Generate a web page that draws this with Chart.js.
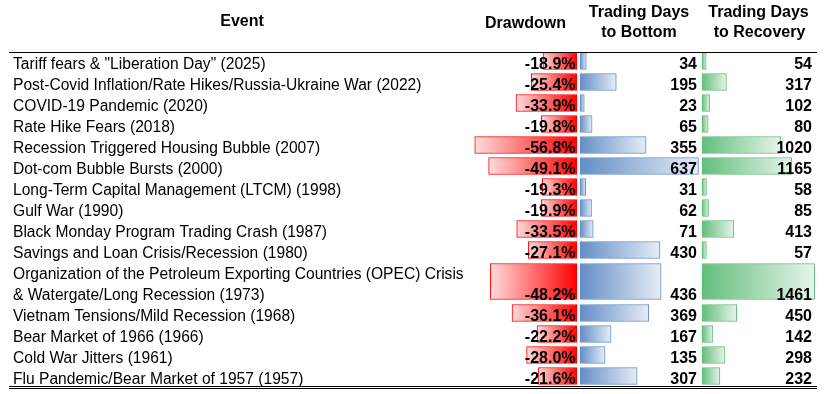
<!DOCTYPE html>
<html>
<head>
<meta charset="utf-8">
<script src="https://cdn.jsdelivr.net/npm/chart.js@4.4.1/dist/chart.umd.min.js"></script>
<style>
  html, body { margin: 0; padding: 0; background: #ffffff; }
  #wrap { width: 825px; height: 394px; }
</style>
</head>
<body>
<div id="wrap"><canvas id="c" width="825" height="394"></canvas></div>
<script>
// ---- data ----
const headers = ["Event", "Drawdown", "Trading Days\nto Bottom", "Trading Days\nto Recovery"];
const events = [
  'Tariff fears & "Liberation Day" (2025)',
  'Post-Covid Inflation/Rate Hikes/Russia-Ukraine War (2022)',
  'COVID-19 Pandemic (2020)',
  'Rate Hike Fears (2018)',
  'Recession Triggered Housing Bubble (2007)',
  'Dot-com Bubble Bursts (2000)',
  'Long-Term Capital Management (LTCM) (1998)',
  'Gulf War (1990)',
  'Black Monday Program Trading Crash (1987)',
  'Savings and Loan Crisis/Recession (1980)',
  'Organization of the Petroleum Exporting Countries (OPEC) Crisis\n& Watergate/Long Recession (1973)',
  'Vietnam Tensions/Mild Recession (1968)',
  'Bear Market of 1966 (1966)',
  'Cold War Jitters (1961)',
  'Flu Pandemic/Bear Market of 1957 (1957)'
];
const drawdown = [-18.9, -25.4, -33.9, -19.8, -56.8, -49.1, -19.3, -19.9, -33.5, -27.1, -48.2, -36.1, -22.2, -28.0, -21.6];
const daysToBottom = [34, 195, 23, 65, 355, 637, 31, 62, 71, 430, 436, 369, 167, 135, 307];
const daysToRecovery = [54, 317, 102, 80, 1020, 1165, 58, 85, 413, 57, 1461, 450, 142, 298, 232];

// ---- layout helpers (rows: a two-line label takes two row slots) ----
const lineCounts = events.map(e => e.split('\n').length);
const slotStart = [];
let acc = 0;
lineCounts.forEach(n => { slotStart.push(acc); acc += n; });
const totalSlots = acc;
const rowCenter = slotStart.map((s, i) => s + lineCounts[i] / 2);

function split(values, multi) {
  const out = [];
  values.forEach((v, i) => {
    if ((lineCounts[i] > 1) === multi) out.push({ x: v, y: rowCenter[i] });
  });
  return out;
}

function gradFill(c0, c1) {
  return function (ctx) {
    const chart = ctx.chart;
    const ds = chart.data.datasets[ctx.datasetIndex];
    const sc = chart.scales[ds.xAxisID];
    const v = ctx.raw && ctx.raw.x;
    if (v == null || !sc) return c0;
    const p0 = sc.getPixelForValue(0), p1 = sc.getPixelForValue(v);
    if (!isFinite(p0) || !isFinite(p1) || p0 === p1) return c0;
    const g = chart.ctx.createLinearGradient(p0, 0, p1, 0);
    g.addColorStop(0, c0);
    g.addColorStop(1, c1);
    return g;
  };
}

const RED = '#FF0000', RED_END = '#FFDCDC';
const BLUE = '#638EC6', BLUE_END = '#E6ECF6';
const GREEN = '#63BE7B', GREEN_END = '#E6F4EA';

function mk(label, data, axis, c0, c1, thick) {
  return {
    label, data, xAxisID: axis, yAxisID: 'y', stack: 'row',
    backgroundColor: gradFill(c0, c1), borderColor: c0, borderWidth: 1,
    borderSkipped: false, barThickness: thick
  };
}

const NORMAL = 17, DOUBLE = 36;
const datasets = [
  mk('Drawdown', split(drawdown, false), 'xD', RED, RED_END, NORMAL),
  mk('Drawdown', split(drawdown, true), 'xD', RED, RED_END, DOUBLE),
  mk('Bottom', split(daysToBottom, false), 'xB', BLUE, BLUE_END, NORMAL),
  mk('Bottom', split(daysToBottom, true), 'xB', BLUE, BLUE_END, DOUBLE),
  mk('Recovery', split(daysToRecovery, false), 'xR', GREEN, GREEN_END, NORMAL),
  mk('Recovery', split(daysToRecovery, true), 'xR', GREEN, GREEN_END, DOUBLE)
];

// column geometry: zero pixel and pixels per unit
const W = 825;
const colD = { zero: 577, ppu: 1.80 };
const colB = { zero: 580, ppu: 0.186 };
const colR = { zero: 702, ppu: 0.0771 };
function axis(col) {
  return { type: 'linear', display: false, stacked: false, bounds: 'data', offset: false,
           min: -col.zero / col.ppu, max: (W - col.zero) / col.ppu };
}

const FONT = '"Liberation Sans", Arial, sans-serif';

const textPlugin = {
  id: 'tableText',
  afterDraw(chart) {
    const ctx = chart.ctx;
    const y = chart.scales.y;
    const xD = chart.scales.xD, xB = chart.scales.xB, xR = chart.scales.xR;
    ctx.save();
    ctx.fillStyle = '#000';
    ctx.textBaseline = 'alphabetic';
    // headers
    ctx.font = 'bold 16px ' + FONT;
    ctx.textAlign = 'center';
    ctx.fillText(headers[0], 242, 26);
    ctx.fillText(headers[1], 525.5, 27.5);
    const h2 = headers[2].split('\n'), h3 = headers[3].split('\n');
    ctx.fillText(h2[0], 639, 16.5); ctx.fillText(h2[1], 639, 36.5);
    ctx.fillText(h3[0], 758.5, 16.5); ctx.fillText(h3[1], 759.5, 36.5);

    // rows
    const slotBottom = s => y.getPixelForValue(s + 1) - 2.3;
    events.forEach((ev, i) => {
      const lines = ev.split('\n');
      ctx.font = '15.6px ' + FONT;
      ctx.textAlign = 'left';
      lines.forEach((ln, k) => ctx.fillText(ln, 13, slotBottom(slotStart[i] + k)));
      const base = slotBottom(slotStart[i] + lines.length - 1);
      ctx.font = 'bold 16px ' + FONT;
      ctx.textAlign = 'right';
      ctx.fillText(drawdown[i].toFixed(1) + '%', xD.getPixelForValue(0) - 1.5, base);
      ctx.fillText(String(daysToBottom[i]), xB.getPixelForValue(0) + 117, base);
      ctx.fillText(String(daysToRecovery[i]), xR.getPixelForValue(0) + 110, base);
    });

    // rules
    ctx.strokeStyle = '#000';
    ctx.lineWidth = 1;
    const top = Math.round(y.getPixelForValue(0)) + 1.5;
    const bot = Math.round(y.getPixelForValue(totalSlots));
    ctx.beginPath();
    ctx.moveTo(9, top); ctx.lineTo(817, top);
    ctx.moveTo(9, bot - 0.5); ctx.lineTo(817, bot - 0.5);
    ctx.moveTo(9, bot + 1.5); ctx.lineTo(817, bot + 1.5);
    ctx.stroke();
    ctx.restore();
  }
};

new Chart(document.getElementById('c'), {
  type: 'bar',
  data: { datasets },
  options: {
    indexAxis: 'y',
    responsive: false,
    maintainAspectRatio: false,
    devicePixelRatio: 1,
    animation: false,
    layout: { padding: { top: 50.5, bottom: 394 - 50.5 - 21 * 16, left: 0, right: 0 } },
    plugins: { legend: { display: false }, tooltip: { enabled: false } },
    scales: {
      y: { type: 'linear', display: false, reverse: true, offset: false, grid: { offset: false },
           min: 0, max: totalSlots, bounds: 'data' },
      xD: axis(colD),
      xB: axis(colB),
      xR: axis(colR)
    }
  },
  plugins: [textPlugin]
});
</script>
</body>
</html>
